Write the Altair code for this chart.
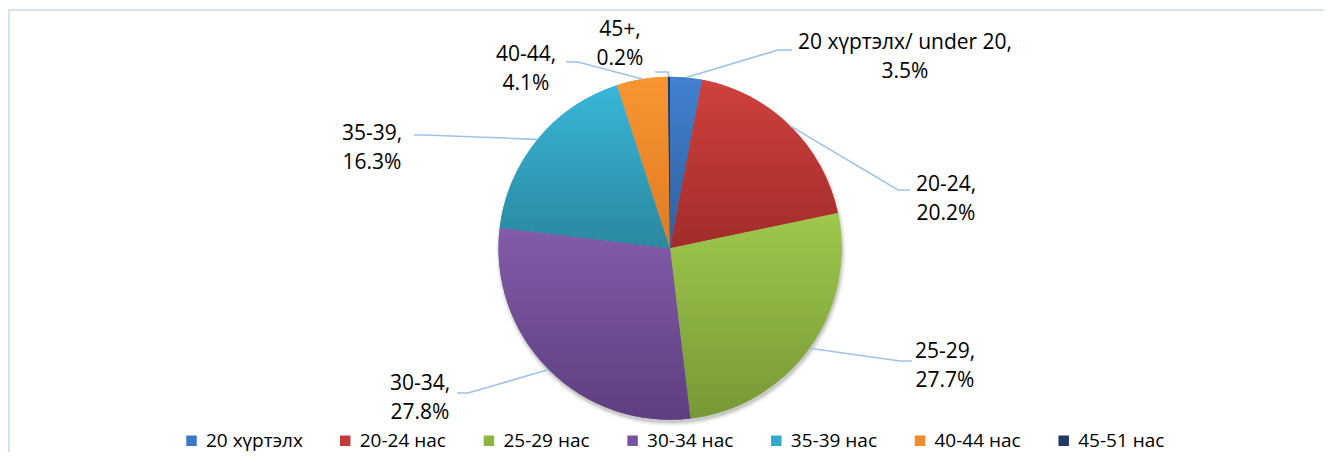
import math
import altair as alt
import pandas as pd

# ---------------- data ----------------
LEGEND_NAMES = ["20 хүртэлх", "20-24 нас", "25-29 нас", "30-34 нас", "35-39 нас", "40-44 нас", "45-51 нас"]
LABEL_NAMES = ["20 хүртэлх/ under 20", "20-24", "25-29", "30-34", "35-39", "40-44", "45+"]
LABEL_PCT = [3.5, 20.2, 27.7, 27.8, 16.3, 4.1, 0.2]          # printed data labels
SHARES = [3.0, 18.7, 26.4, 28.8, 18.1, 4.8, 0.2]              # slice sizes as drawn

# ---------------- styles ----------------
LEGEND_COLORS = ["#3b78c6", "#c23b36", "#8db542", "#7654a2", "#2fa9cd", "#f08a2c", "#1f3864"]
TOP_COLORS = ["#4181d0", "#cf413d", "#9fc84c", "#815ca9", "#39b6d9", "#f99632", "#223e66"]
BOTTOM_COLORS = ["#2f5f9f", "#a12c2a", "#779836", "#5e3e7e", "#2a889f", "#df7a22", "#1a2f52"]
FONT = "Open Sans"
TEXT_COLOR = "#000000"
LEADER_COLOR = "#9fc2e8"

W, H = 1316, 444
PIE_CX, PIE_CY, PIE_R = 662.0, 240.3, 171.5
LINE_H = 29

# label block centres and leader elbows, relative to the pie centre
LABEL_OFF = [(235, -190.8), (276, -49.3), (275, 118.2), (-250, 149.7),
             (-298, -99.8), (-144, -178.8), (-50, -204.3)]
LEADER_ELBOW = [(108, -198.3), (228, -58.3), (230, 112.7), (-202, 144.7),
                (-245, -113.3), (-92, -186.3), (-2, -176.3)]
LEADER_END = [(122, -198.3), (240, -58.3), (242, 112.7), (-213, 144.7),
              (-256, -113.3), (-104, -186.3), (-15, -176.3)]

total = sum(SHARES)
df = pd.DataFrame({
    "cat": LEGEND_NAMES,
    "share": SHARES,
    "order": list(range(len(SHARES))),
})

base = alt.Chart(df).transform_window(
    cum="sum(share)", sort=[alt.SortField("order")], frame=[None, 0]
).transform_calculate(start="datum.cum - datum.share")

theta_enc = alt.Theta("start:Q", scale=alt.Scale(domain=[0, total]))
theta2_enc = alt.Theta2("cum:Q")

# legend-bearing flat layer
legend_layer = base.mark_arc(stroke=None).encode(
    theta=theta_enc, theta2=theta2_enc,
    x=alt.value(PIE_CX), y=alt.value(PIE_CY), radius=alt.value(PIE_R),
    color=alt.Color("cat:N",
                    scale=alt.Scale(domain=LEGEND_NAMES, range=LEGEND_COLORS),
                    legend=alt.Legend(
                        title=None, orient="none", direction="horizontal",
                        legendX=174, legendY=423, symbolType="square", symbolSize=110,
                        symbolStrokeWidth=0, labelFont=FONT, labelFontSize=19,
                        labelColor=TEXT_COLOR, labelOffset=5, columnPadding=32.7,
                        padding=0, labelLimit=300)),
)

# soft shadow
shadow_df = pd.DataFrame({"a": [0]})
shadows = []
for dr, op in [(0.5, 0.16), (2.0, 0.09), (3.5, 0.05)]:
    shadows.append(
        alt.Chart(shadow_df).mark_arc(theta=0, theta2=2 * math.pi, fill="#444444",
                                       opacity=op, stroke=None).encode(
            x=alt.value(PIE_CX + 1), y=alt.value(PIE_CY + 3), radius=alt.value(PIE_R + dr))
    )

# gradient slices
grad_layers = []
for i, c in enumerate(LEGEND_NAMES):
    g = alt.Gradient(gradient="linear",
                     stops=[alt.GradientStop(color=TOP_COLORS[i], offset=0),
                            alt.GradientStop(color=BOTTOM_COLORS[i], offset=1)],
                     x1=0, x2=0, y1=0, y2=1)
    grad_layers.append(
        base.transform_filter(alt.datum.cat == c).mark_arc(fill=g, stroke=None).encode(
            theta=theta_enc, theta2=theta2_enc,
            x=alt.value(PIE_CX), y=alt.value(PIE_CY), radius=alt.value(PIE_R))
    )

# leader lines: start on the slice edge at its middle angle
rows = []
cum = 0.0
for i, s in enumerate(SHARES):
    mid = (cum + s / 2) / total * 2 * math.pi
    cum += s
    sx = PIE_CX + PIE_R * math.sin(mid)
    sy = PIE_CY - PIE_R * math.cos(mid)
    rows.append({"cat": LEGEND_NAMES[i], "k": 0, "px": sx, "py": sy})
    rows.append({"cat": LEGEND_NAMES[i], "k": 1, "px": PIE_CX + LEADER_ELBOW[i][0], "py": PIE_CY + LEADER_ELBOW[i][1]})
    rows.append({"cat": LEGEND_NAMES[i], "k": 2, "px": PIE_CX + LEADER_END[i][0], "py": PIE_CY + LEADER_END[i][1]})
leader_df = pd.DataFrame(rows)
leaders = alt.Chart(leader_df).mark_line(color=LEADER_COLOR, strokeWidth=1.6).encode(
    x=alt.X("px:Q", scale=None), y=alt.Y("py:Q", scale=None),
    detail="cat:N", order="k:Q")

# data labels (y is the block centre; first line sits half a line above)
lab_df = pd.DataFrame({
    "txt": [f"{n},\n{p:.1f}%" for n, p in zip(LABEL_NAMES, LABEL_PCT)],
    "lx": [PIE_CX + o[0] for o in LABEL_OFF],
    "ly": [PIE_CY + o[1] for o in LABEL_OFF],
})
labels = alt.Chart(lab_df).mark_text(
    font=FONT, fontSize=21, color=TEXT_COLOR, align="center", baseline="middle",
    lineBreak="\n", lineHeight=LINE_H, dy=-LINE_H / 2).encode(
    x=alt.X("lx:Q", scale=None), y=alt.Y("ly:Q", scale=None), text="txt:N")

# chart frame (top and left edges visible)
frame_df = pd.DataFrame({"a": [0]})
top_rule = alt.Chart(frame_df).mark_rule(color="#d5e2f2", strokeWidth=2).encode(
    x=alt.value(0), x2=alt.value(W), y=alt.value(2))
left_rule = alt.Chart(frame_df).mark_rule(color="#d5e2f2", strokeWidth=2).encode(
    x=alt.value(1), y=alt.value(2), y2=alt.value(H))

chart = alt.layer(
    top_rule, left_rule, *shadows, legend_layer, *grad_layers, leaders, labels
).properties(
    width=W, height=H, autosize=alt.AutoSizeParams(type="none"), padding=0,
    background="white"
).configure_view(stroke=None)

chart.save("out.html", embed_options={"renderer": "svg", "actions": False})
